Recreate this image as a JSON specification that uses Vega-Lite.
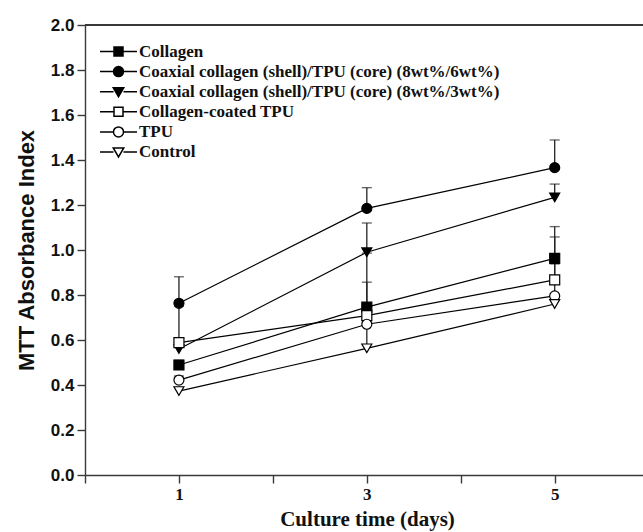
{
  "$schema": "https://vega.github.io/schema/vega-lite/v6.json",
  "width": 558,
  "height": 450,
  "autosize": {"type": "none"},
  "padding": {"left": 85, "top": 25, "right": 0, "bottom": 57},
  "background": "white",
  "config": {
    "view": {"stroke": null},
    "axis": {
      "domainColor": "#3a3a3a",
      "domainWidth": 1.4,
      "tickColor": "#3a3a3a",
      "tickWidth": 1.4,
      "tickSize": 8,
      "grid": false,
      "labelColor": "#111",
      "titleColor": "#111"
    }
  },
  "data": {
    "values": [
      {"series": "Collagen", "day": 1, "mti": 0.489, "hi": 0.51},
      {"series": "Collagen", "day": 3, "mti": 0.746, "hi": 0.986},
      {"series": "Collagen", "day": 5, "mti": 0.963, "hi": 1.104},
      {"series": "Coaxial collagen (shell)/TPU (core) (8wt%/6wt%)", "day": 1, "mti": 0.763, "hi": 0.881},
      {"series": "Coaxial collagen (shell)/TPU (core) (8wt%/6wt%)", "day": 3, "mti": 1.185, "hi": 1.277},
      {"series": "Coaxial collagen (shell)/TPU (core) (8wt%/6wt%)", "day": 5, "mti": 1.366, "hi": 1.489},
      {"series": "Coaxial collagen (shell)/TPU (core) (8wt%/3wt%)", "day": 1, "mti": 0.56, "hi": 0.75},
      {"series": "Coaxial collagen (shell)/TPU (core) (8wt%/3wt%)", "day": 3, "mti": 0.99, "hi": 1.12},
      {"series": "Coaxial collagen (shell)/TPU (core) (8wt%/3wt%)", "day": 5, "mti": 1.234, "hi": 1.293},
      {"series": "Collagen-coated TPU", "day": 1, "mti": 0.588, "hi": 0.609},
      {"series": "Collagen-coated TPU", "day": 3, "mti": 0.708, "hi": 0.857},
      {"series": "Collagen-coated TPU", "day": 5, "mti": 0.867, "hi": 1.058},
      {"series": "TPU", "day": 1, "mti": 0.422, "hi": 0.44},
      {"series": "TPU", "day": 3, "mti": 0.67, "hi": 0.72},
      {"series": "TPU", "day": 5, "mti": 0.796, "hi": 0.938},
      {"series": "Control", "day": 1, "mti": 0.373, "hi": 0.39},
      {"series": "Control", "day": 3, "mti": 0.563, "hi": 0.7},
      {"series": "Control", "day": 5, "mti": 0.76, "hi": 0.78}
    ]
  },
  "encoding": {
    "x": {
      "field": "day",
      "type": "quantitative",
      "scale": {"domain": [0, 5.94], "nice": false, "zero": false},
      "axis": {
        "values": [0, 1, 2, 3, 4, 5],
        "labelExpr": "datum.value % 2 == 1 ? datum.label : ''",
        "labelFont": "Liberation Serif",
        "labelFontWeight": "bold",
        "labelFontSize": 17,
        "labelPadding": 3,
        "title": "Culture time (days)",
        "titleFont": "Liberation Serif",
        "titleFontWeight": "bold",
        "titleFontSize": 21,
        "titlePadding": 6,
        "titleX": 282
      }
    },
    "y": {
      "field": "mti",
      "type": "quantitative",
      "scale": {"domain": [0, 2], "nice": false},
      "axis": {
        "values": [0, 0.2, 0.4, 0.6, 0.8, 1.0, 1.2, 1.4, 1.6, 1.8, 2.0],
        "format": ".1f",
        "labelFont": "Liberation Sans",
        "labelFontWeight": "bold",
        "labelFontSize": 17,
        "labelPadding": 3,
        "title": "MTT Absorbance Index",
        "titleFont": "Liberation Sans",
        "titleFontWeight": "bold",
        "titleFontSize": 22,
        "titlePadding": 12
      }
    }
  },
  "resolve": {"scale": {"shape": "independent", "fill": "independent"}},
  "layer": [
    {
      "mark": {"type": "rule", "color": "#3a3a3a", "strokeWidth": 1.4},
      "encoding": {"y": {"datum": 2}, "x": null}
    },
    {
      "mark": {"type": "line", "color": "black", "strokeWidth": 1.2},
      "encoding": {"detail": {"field": "series"}}
    },
    {
      "mark": {"type": "rule", "color": "#222", "strokeWidth": 1.3},
      "encoding": {"y2": {"field": "hi"}}
    },
    {
      "mark": {"type": "tick", "color": "#222", "thickness": 1.3, "size": 10, "orient": "horizontal"},
      "encoding": {"y": {"field": "hi", "type": "quantitative"}}
    },
    {
      "mark": {"type": "point", "filled": true, "stroke": "black", "strokeWidth": 1.2, "size": 100, "opacity": 1},
      "encoding": {
        "shape": {
          "field": "series",
          "type": "nominal",
          "scale": {
            "domain": ["Collagen", "Coaxial collagen (shell)/TPU (core) (8wt%/6wt%)", "Coaxial collagen (shell)/TPU (core) (8wt%/3wt%)", "Collagen-coated TPU", "TPU", "Control"],
            "range": ["square", "circle", "triangle-down", "square", "circle", "triangle-down"]
          },
          "legend": null
        },
        "fill": {
          "field": "series",
          "type": "nominal",
          "scale": {
            "domain": ["Collagen", "Coaxial collagen (shell)/TPU (core) (8wt%/6wt%)", "Coaxial collagen (shell)/TPU (core) (8wt%/3wt%)", "Collagen-coated TPU", "TPU", "Control"],
            "range": ["black", "black", "black", "white", "white", "white"]
          },
          "legend": null
        }
      }
    },
    {
      "description": "Legend only: key symbols with a line running through each marker",
      "transform": [{"filter": "false"}],
      "mark": {"type": "point", "filled": true, "stroke": "black", "strokeWidth": 1.2, "size": 100, "opacity": 1},
      "encoding": {
        "shape": {
          "field": "series",
          "type": "nominal",
          "scale": {
            "domain": ["Collagen", "Coaxial collagen (shell)/TPU (core) (8wt%/6wt%)", "Coaxial collagen (shell)/TPU (core) (8wt%/3wt%)", "Collagen-coated TPU", "TPU", "Control"],
            "range": [
              "M-3.7,0H-0.9M0.9,0H3.7M-0.9,-0.9H0.9V0.9H-0.9Z",
              "M-3.7,0H-1M1,0H3.7M-1,0A1,1 0 1,0 1,0A1,1 0 1,0 -1,0Z",
              "M-3.7,0H-1M1,0H3.7M-1.05,-0.8L1.05,-0.8L0,1Z",
              "M-3.7,0H-0.9M0.9,0H3.7M-0.9,-0.9H0.9V0.9H-0.9Z",
              "M-3.7,0H-1M1,0H3.7M-1,0A1,1 0 1,0 1,0A1,1 0 1,0 -1,0Z",
              "M-3.7,0H-1M1,0H3.7M-1.05,-0.8L1.05,-0.8L0,1Z"
            ]
          },
          "legend": {
            "title": null,
            "orient": "none",
            "legendX": 25,
            "legendY": 18,
            "padding": 0,
            "rowPadding": 2.1,
            "labelFont": "Liberation Serif",
            "labelFontWeight": "bold",
            "labelFontSize": 17,
            "labelColor": "#111",
            "labelOffset": 12,
            "labelLimit": 600,
            "symbolSize": 100
          }
        },
        "fill": {
          "field": "series",
          "type": "nominal",
          "scale": {
            "domain": ["Collagen", "Coaxial collagen (shell)/TPU (core) (8wt%/6wt%)", "Coaxial collagen (shell)/TPU (core) (8wt%/3wt%)", "Collagen-coated TPU", "TPU", "Control"],
            "range": ["black", "black", "black", "white", "white", "white"]
          },
          "legend": {
            "title": null,
            "orient": "none",
            "legendX": 25,
            "legendY": 18,
            "padding": 0,
            "rowPadding": 2.1,
            "labelFont": "Liberation Serif",
            "labelFontWeight": "bold",
            "labelFontSize": 17,
            "labelColor": "#111",
            "labelOffset": 12,
            "labelLimit": 600,
            "symbolSize": 100
          }
        }
      }
    }
  ]
}
